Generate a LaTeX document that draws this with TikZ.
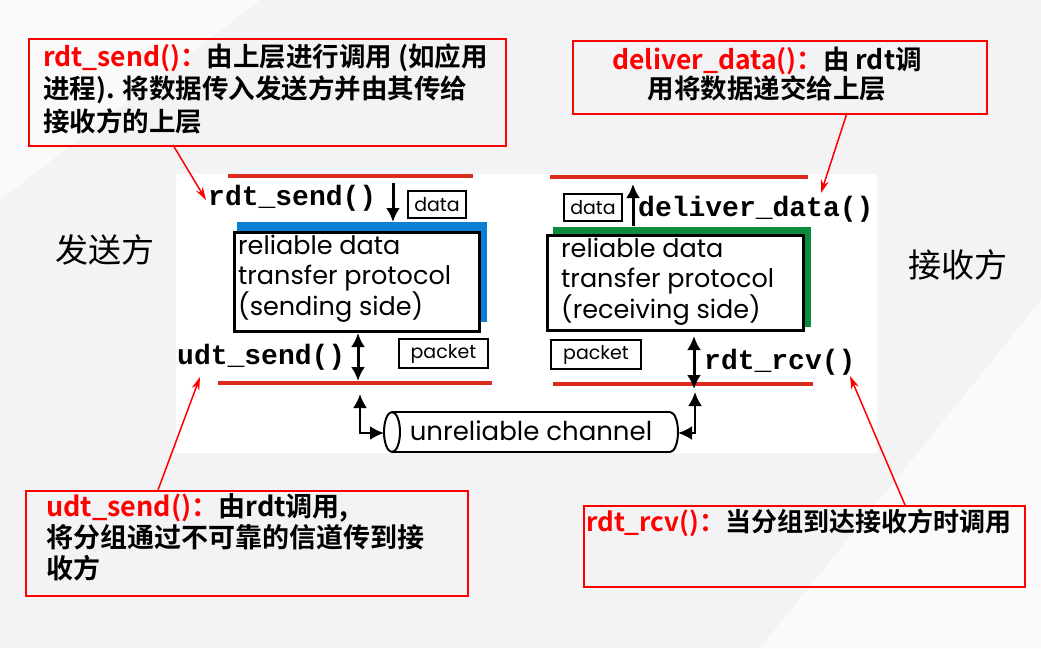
\documentclass[tikz,border=0pt]{standalone}
\usepackage{fontspec}
\setmainfont{Liberation Sans}
\newfontfamily\cjk{Noto Sans CJK SC}
\newfontfamily\cjkb{Noto Sans CJK SC Bold}
\newfontfamily\cour{Liberation Mono}
\newfontfamily\goth{Poppins}
\usetikzlibrary{arrows.meta}
\definecolor{bggray}{HTML}{F3F3F5}
\definecolor{pblue}{HTML}{0A80D4}
\definecolor{pgreen}{HTML}{0A8C3C}
\definecolor{lred}{HTML}{DC2A1E}
\tikzset{
  callout/.style={draw=red, line width=1.5pt, anchor=north west, inner sep=0pt},
  calltext/.style={font=\cjkb\fontsize{26.5}{32.5}\selectfont, inner sep=0pt},
  redarrow/.style={draw=red, line width=1.5pt, -{Stealth[length=13pt,width=8pt]}},
  fn/.style={font=\cour\bfseries\fontsize{28}{30}\selectfont, inner sep=0pt},
  smallbox/.style={draw, line width=2pt, inner sep=0pt, font=\goth\fontsize{19}{20}\selectfont, anchor=north west},
  protobox/.style={draw, line width=3pt, fill=white, anchor=north west, inner sep=0pt},
  prototext/.style={font=\goth\fontsize{25.5}{29.5}\selectfont, align=left, inner sep=0pt, anchor=north west},
  blk/.style={line width=3pt, -{Latex[length=14pt,width=14pt]}},
  blkdbl/.style={line width=3pt, {Latex[length=14pt,width=14pt]}-{Latex[length=14pt,width=14pt]}},
  hline/.style={draw=lred, line width=4pt},
  side/.style={font=\cjk\fontsize{33}{34}\selectfont, inner sep=0pt}
}
\begin{document}
\begin{tikzpicture}[x=1pt,y=-1pt]
\useasboundingbox (0,0) rectangle (1041,648);
\fill[bggray] (0,0) rectangle (1041,648);
\fill[white!60!bggray] (0,0) -- (260,0) -- (0,200) -- cycle;
\fill[white!60!bggray] (1041,300) -- (1041,648) -- (760,648) -- cycle;
\fill[white] (176,174) rectangle (877,453);

% callout boxes
\node[callout, minimum width=477pt, minimum height=107pt] (b1) at (28,38) {};
\node[calltext, anchor=north west, align=left] (t1) at (43,43)
  {\textcolor{red}{rdt\_send()：}由上层进行调用 (如应用\\进程). 将数据传入发送方并由其传给\\接收方的上层};

\node[callout, minimum width=414pt, minimum height=73pt] (b2) at (572,40) {};
\node[calltext, align=center, font=\cjkb\fontsize{26.5}{29}\selectfont] (t2) at (767,74)
  {\textcolor{red}{deliver\_data()：}由 rdt调\\用将数据递交给上层};

\node[callout, minimum width=442pt, minimum height=105pt] (b3) at (25,490) {};
\node[calltext, anchor=north west, align=left, font=\cjkb\fontsize{27}{31}\selectfont] (t3) at (46,493)
  {\textcolor{red}{udt\_send()：}由rdt调用,\\将分组通过不可靠的信道传到接\\收方};

\node[callout, minimum width=441pt, minimum height=81pt] (b4) at (583,505) {};
\node[calltext, anchor=west, font=\cjkb\fontsize{26}{30}\selectfont] (t4) at (586,523)
  {\textcolor{red}{rdt\_rcv()：}当分组到达接收方时调用};

% side labels
\node[side] (snd) at (105,250) {发送方};
\node[side] (rcv) at (958,265) {接收方};

% red horizontal lines
\draw[hline] (228,176) -- (473,176);
\draw[hline] (218,383) -- (492,383);
\draw[hline] (550,177) -- (808,177);
\draw[hline] (553,384) -- (813,384);

% sender
\fill[pblue] (237,222) rectangle (487,322);
\node[protobox, minimum width=245pt, minimum height=99pt] (sp) at (233,231) {};
\node[prototext] (spt) at (238,235) {reliable data\\transfer protocol\\(sending side)};
\node[fn, anchor=west] (rs) at (208,198) {rdt\_send()};
\node[smallbox, minimum width=58pt, minimum height=27pt] (sd) at (407,190) {data};
\coordinate (sa1) at (393,183);
\coordinate (sa2) at (393,222);
\draw[blk] (sa1) -- (sa2);
\node[fn, anchor=west] (us) at (177,357) {udt\_send()};
\node[smallbox, minimum width=89pt, minimum height=29pt] (sk) at (398,338) {packet};
\coordinate (sb1) at (358,333);
\coordinate (sb2) at (358,381);
\draw[blkdbl] (sb1) -- (sb2);

% receiver
\fill[pgreen] (553,227) rectangle (811,327);
\node[protobox, minimum width=256pt, minimum height=95pt] (rp) at (546,234) {};
\node[prototext] (rpt) at (561,238) {reliable data\\transfer protocol\\(receiving side)};
\node[smallbox, minimum width=58pt, minimum height=27pt] (rd) at (563,193) {data};
\coordinate (ra1) at (633,226);
\coordinate (ra2) at (633,184);
\draw[blk] (ra1) -- (ra2);
\node[fn, anchor=west] (dd) at (638,209) {deliver\_data()};
\node[smallbox, minimum width=90pt, minimum height=29pt] (rk) at (550,339) {packet};
\coordinate (rb1) at (694,336);
\coordinate (rb2) at (694,389);
\draw[blkdbl] (rb1) -- (rb2);
\node[fn, anchor=west] (rr) at (704,362) {rdt\_rcv()};

% channel
\draw[line width=2pt] (392,412) -- (670,412);
\draw[line width=2pt] (392,452) -- (670,452);
\draw[line width=2pt, fill=white] (392,432) ellipse [x radius=8, y radius=20];
\draw[line width=2pt] (670,412) arc [start angle=-90, end angle=90, x radius=8, y radius=20];
\node[font=\goth\fontsize{26}{27}\selectfont, inner sep=0pt] (ch) at (531,431) {unreliable channel};
\coordinate (cl1) at (360,394);
\coordinate (cl2) at (384,433);
\draw[blkdbl, line width=2.5pt] (cl1) |- (cl2);
\coordinate (cr1) at (695,392);
\coordinate (cr2) at (678,433);
\draw[blkdbl, line width=2.5pt] (cr1) |- (cr2);

% red callout arrows
\coordinate (r1s) at (173,145);
\coordinate (r1e) at (206,200);
\draw[redarrow] (r1s) -- (r1e);
\coordinate (r2s) at (847,113);
\coordinate (r2e) at (821,193);
\draw[redarrow] (r2s) -- (r2e);
\coordinate (r3s) at (158,490);
\coordinate (r3e) at (200,377);
\draw[redarrow] (r3s) -- (r3e);
\coordinate (r4s) at (905,505);
\coordinate (r4e) at (850,376);
\draw[redarrow] (r4s) -- (r4e);
\end{tikzpicture}
\end{document}
